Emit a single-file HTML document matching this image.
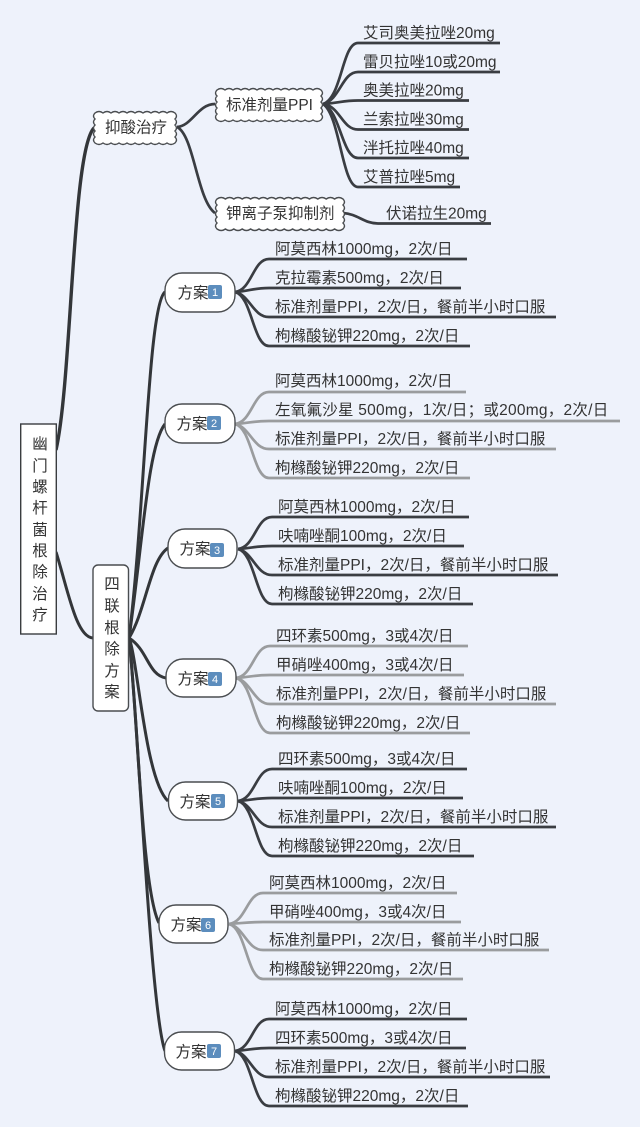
<!DOCTYPE html>
<html><head><meta charset="utf-8"><style>
html,body{margin:0;padding:0;background:#eef2fb;width:640px;height:1127px;overflow:hidden}
svg{display:block;filter:blur(.35px)}
text{font-family:"Liberation Sans","Noto Sans CJK SC",sans-serif;font-size:15.5px;fill:#333}
.d{fill:none;stroke:#3a3d42;stroke-width:2.7}
.g{fill:none;stroke:#9a9c9e;stroke-width:2.7}
.t{fill:none;stroke:#333639;stroke-width:3}
.n{fill:#fff;stroke:#4a4d50;stroke-width:1.4}
.k{fill:#5c8dbd}
.c{fill:#fff;font-size:11px;text-anchor:middle}
.m{text-anchor:middle}
</style></head><body>
<svg width="640" height="1127" viewBox="0 0 640 1127" xmlns="http://www.w3.org/2000/svg">
<rect width="640" height="1127" fill="#eef2fb"/>

<!-- trunks -->
<path class="t" style="stroke-width:3.4" d="M56 450C72 380 72 150 94 128"/>
<path class="t" d="M56 552C68 590 76 637 93 638"/>
<path class="d" d="M177 127C192 126 198 104 215 104"/>
<path class="d" d="M177 127C194 135 197 200 215 213"/>
<path class="d" d="M343 213C358 214 364 223.500 378 223.500H491"/>
<path class="t" d="M129 638C145 510 148 305 165 292"/>
<path class="t" d="M129 638C143 540 148 445 165 424"/>
<path class="t" d="M129 638C146 610 150 560 168 548"/>
<path class="t" d="M129 638C148 650 148 675 166 678"/>
<path class="t" d="M129 638C138 660 145 780 168 801"/>
<path class="t" d="M129 638C138 720 142 890 159 923"/>
<path class="t" d="M129 638C137 700 150 1010 165 1051"/>

<!-- PPI leaves -->
<path class="d" d="M323 104C342 98 342 43 358 43H500"/>
<path class="d" d="M323 104C340 100 342 72 358 72H500"/>
<path class="d" d="M323 104C340 103 342 100.500 358 100.500H469"/>
<path class="d" d="M323 104C340 106 342 129.500 358 129.500H469"/>
<path class="d" d="M323 104C340 110 342 158 358 158H469"/>
<path class="d" d="M323 104C340 115 342 187 358 187H460"/>

<!-- group 1 -->
<path class="d" d="M235 292C252 290 253 259 269 259H467"/>
<path class="d" d="M235 292C250 291 253 288 269 288H461"/>
<path class="d" d="M235 292C250 295 253 317 269 317H556"/>
<path class="d" d="M235 292C252 296 253 346 269 346H470"/>
<!-- group 2 -->
<path class="g" d="M235 424C252 422 253 392 269 392H466"/>
<path class="g" d="M235 424C250 423 253 421 269 421H620"/>
<path class="g" d="M235 424C250 427 253 449 269 449H556"/>
<path class="g" d="M235 424C252 428 253 478 269 478H470"/>
<!-- group 3 -->
<path class="d" d="M238 549C255 547 256 517 272 517H469"/>
<path class="d" d="M238 549C253 548 256 546 272 546H464"/>
<path class="d" d="M238 549C253 552 256 575 272 575H558"/>
<path class="d" d="M238 549C255 553 256 604 272 604H473"/>
<!-- group 4 -->
<path class="g" d="M236 678C253 676 254 646 270 646H468"/>
<path class="g" d="M236 678C251 677 254 675 270 675H464"/>
<path class="g" d="M236 678C251 681 254 704 270 704H556"/>
<path class="g" d="M236 678C253 682 254 733 270 733H470"/>
<!-- group 5 -->
<path class="d" d="M238 801C255 799 256 769 272 769H467"/>
<path class="d" d="M238 801C253 800 256 798 272 798H463"/>
<path class="d" d="M238 801C253 804 256 827 272 827H556"/>
<path class="d" d="M238 801C255 805 256 856 272 856H474"/>
<!-- group 6 -->
<path class="g" d="M229 924C246 922 247 893 263 893H457"/>
<path class="g" d="M229 924C244 923 247 922 263 922H461"/>
<path class="g" d="M229 924C244 927 247 950 263 950H549"/>
<path class="g" d="M229 924C246 928 247 979 263 979H463"/>
<!-- group 7 -->
<path class="d" d="M235 1051C252 1049 253 1019 269 1019H467"/>
<path class="d" d="M235 1051C250 1050 253 1048 269 1048H466"/>
<path class="d" d="M235 1051C250 1054 253 1077 269 1077H550"/>
<path class="d" d="M235 1051C252 1055 253 1106 269 1106H468"/>

<!-- root -->
<rect x="20.700" y="424" width="35.600" height="210" fill="#fff" stroke="#3a3d40" stroke-width="1.400"/>
<text class="m" x="40" y="449">幽</text><text class="m" x="40" y="471">门</text><text class="m" x="40" y="492">螺</text><text class="m" x="40" y="513">杆</text><text class="m" x="40" y="535">菌</text><text class="m" x="40" y="556">根</text><text class="m" x="40" y="577">除</text><text class="m" x="40" y="599">治</text><text class="m" x="40" y="620">疗</text>

<rect class="n" x="93" y="565" width="35.500" height="146" rx="5"/>
<text class="m" x="112" y="589">四</text><text class="m" x="112" y="611">联</text><text class="m" x="112" y="633">根</text><text class="m" x="112" y="654">除</text><text class="m" x="112" y="676">方</text><text class="m" x="112" y="697">案</text>

<!-- clouds -->
<path class="n" d="M95 113q4 -3 8 0q4 -3 8 0q4 -3 8 0q4 -3 8 0q4 -3 8 0q4 -3 8 0q4 -3 8 0q4 -3 8 0q4 -3 8 0q4 -3 8 0q3 3 0 6q3 3 0 6q3 3 0 6q3 3 0 6q3 3 0 6q-4 3 -8 0q-4 3 -8 0q-4 3 -8 0q-4 3 -8 0q-4 3 -8 0q-4 3 -8 0q-4 3 -8 0q-4 3 -8 0q-4 3 -8 0q-4 3 -8 0q-3 -3 0 -6q-3 -3 0 -6q-3 -3 0 -6q-3 -3 0 -6q-3 -3 0 -6z"/>
<path class="n" d="M217 90q4 -3 8 0q4 -3 8 0q4 -3 8 0q4 -3 8 0q4 -3 8 0q4 -3 8 0q4 -3 8 0q4 -3 8 0q4 -3 8 0q4 -3 8 0q4 -3 8 0q4 -3 8 0q4 -3 8 0q3 3 0 6q3 3 0 6q3 3 0 6q3 3 0 6q3 3 0 6q-4 3 -8 0q-4 3 -8 0q-4 3 -8 0q-4 3 -8 0q-4 3 -8 0q-4 3 -8 0q-4 3 -8 0q-4 3 -8 0q-4 3 -8 0q-4 3 -8 0q-4 3 -8 0q-4 3 -8 0q-4 3 -8 0q-3 -3 0 -6q-3 -3 0 -6q-3 -3 0 -6q-3 -3 0 -6q-3 -3 0 -6z"/>
<path class="n" d="M217 199q4.200 -3 8.400 0q4.200 -3 8.400 0q4.200 -3 8.400 0q4.200 -3 8.400 0q4.200 -3 8.400 0q4.200 -3 8.400 0q4.200 -3 8.400 0q4.200 -3 8.400 0q4.200 -3 8.400 0q4.200 -3 8.400 0q4.200 -3 8.400 0q4.200 -3 8.400 0q4.200 -3 8.400 0q4.200 -3 8.400 0q4.200 -3 8.400 0q3 3 0 6q3 3 0 6q3 3 0 6q3 3 0 6q3 3 0 6q-4.200 3 -8.400 0q-4.200 3 -8.400 0q-4.200 3 -8.400 0q-4.200 3 -8.400 0q-4.200 3 -8.400 0q-4.200 3 -8.400 0q-4.200 3 -8.400 0q-4.200 3 -8.400 0q-4.200 3 -8.400 0q-4.200 3 -8.400 0q-4.200 3 -8.400 0q-4.200 3 -8.400 0q-4.200 3 -8.400 0q-4.200 3 -8.400 0q-4.200 3 -8.400 0q-3 -3 0 -6q-3 -3 0 -6q-3 -3 0 -6q-3 -3 0 -6q-3 -3 0 -6z"/>
<text x="105" y="132.500">抑酸治疗</text>
<text x="226" y="110">标准剂量PPI</text>
<text x="226" y="218.500">钾离子泵抑制剂</text>

<!-- PPI text -->
<text x="363" y="38">艾司奥美拉唑20mg</text>
<text x="363" y="67">雷贝拉唑10或20mg</text>
<text x="363" y="95.500">奥美拉唑20mg</text>
<text x="363" y="124.500">兰索拉唑30mg</text>
<text x="363" y="153">泮托拉唑40mg</text>
<text x="363" y="182">艾普拉唑5mg</text>
<text x="386" y="218.500">伏诺拉生20mg</text>

<!-- plan nodes -->
<rect class="n" x="165" y="273" width="70" height="39" rx="17"/><text x="177.500" y="298">方案</text><rect class="k" x="208" y="285" width="14" height="14" rx="2"/><text class="c" x="215" y="296">1</text>
<rect class="n" x="165" y="404" width="70" height="39" rx="17"/><text x="176.500" y="429">方案</text><rect class="k" x="207" y="416" width="14" height="14" rx="2"/><text class="c" x="214" y="427">2</text>
<rect class="n" x="168" y="529" width="69" height="39" rx="17"/><text x="179.500" y="554">方案</text><rect class="k" x="210" y="543" width="14" height="14" rx="2"/><text class="c" x="217" y="554">3</text>
<rect class="n" x="166" y="659" width="70" height="38" rx="17"/><text x="177.500" y="684">方案</text><rect class="k" x="208" y="672" width="14" height="14" rx="2"/><text class="c" x="215" y="683">4</text>
<rect class="n" x="168.500" y="782" width="69" height="38" rx="17"/><text x="179.500" y="807">方案</text><rect class="k" x="211" y="794" width="14" height="14" rx="2"/><text class="c" x="218" y="805">5</text>
<rect class="n" x="159" y="905" width="69" height="38" rx="17"/><text x="170.500" y="930">方案</text><rect class="k" x="201" y="918" width="14" height="14" rx="2"/><text class="c" x="208" y="929">6</text>
<rect class="n" x="164.500" y="1032" width="70" height="38" rx="17"/><text x="175.500" y="1057">方案</text><rect class="k" x="207" y="1044" width="14" height="14" rx="2"/><text class="c" x="214" y="1055">7</text>

<!-- group text -->
<text x="275" y="254">阿莫西林1000mg，2次/日</text>
<text x="275" y="283">克拉霉素500mg，2次/日</text>
<text x="275" y="312">标准剂量PPI，2次/日，餐前半小时口服</text>
<text x="275" y="341">枸橼酸铋钾220mg，2次/日</text>

<text x="275" y="386">阿莫西林1000mg，2次/日</text>
<text x="275" y="415" style="letter-spacing:.25px">左氧氟沙星 500mg，1次/日；或200mg，2次/日</text>
<text x="275" y="444">标准剂量PPI，2次/日，餐前半小时口服</text>
<text x="275" y="473">枸橼酸铋钾220mg，2次/日</text>

<text x="278" y="512">阿莫西林1000mg，2次/日</text>
<text x="278" y="541">呋喃唑酮100mg，2次/日</text>
<text x="278" y="570">标准剂量PPI，2次/日，餐前半小时口服</text>
<text x="278" y="599">枸橼酸铋钾220mg，2次/日</text>

<text x="276" y="641">四环素500mg，3或4次/日</text>
<text x="276" y="670">甲硝唑400mg，3或4次/日</text>
<text x="276" y="699">标准剂量PPI，2次/日，餐前半小时口服</text>
<text x="276" y="728">枸橼酸铋钾220mg，2次/日</text>

<text x="278" y="764">四环素500mg，3或4次/日</text>
<text x="278" y="793">呋喃唑酮100mg，2次/日</text>
<text x="278" y="822">标准剂量PPI，2次/日，餐前半小时口服</text>
<text x="278" y="851">枸橼酸铋钾220mg，2次/日</text>

<text x="269" y="888">阿莫西林1000mg，2次/日</text>
<text x="269" y="917">甲硝唑400mg，3或4次/日</text>
<text x="269" y="945">标准剂量PPI，2次/日，餐前半小时口服</text>
<text x="269" y="974">枸橼酸铋钾220mg，2次/日</text>

<text x="275" y="1014">阿莫西林1000mg，2次/日</text>
<text x="275" y="1043">四环素500mg，3或4次/日</text>
<text x="275" y="1072">标准剂量PPI，2次/日，餐前半小时口服</text>
<text x="275" y="1101">枸橼酸铋钾220mg，2次/日</text>
</svg>
</body></html>
